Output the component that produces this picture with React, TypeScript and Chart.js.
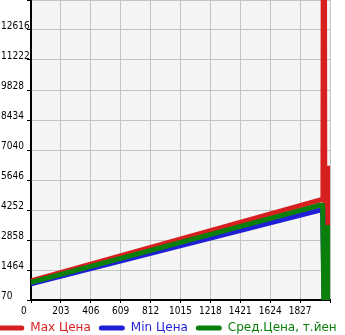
import React, { useEffect, useRef } from "react";
import { Chart, registerables } from "chart.js";

Chart.register(...registerables);

// ---- data ----
const seriesLabels = ["Max Цена", "Min Цена", "Сред.Цена, т.йен"];
const seriesColors = ["#d81f1f", "#1f1fd8", "#0b7f0b"];

const maxX = [0, 1965, 1982, 1988, 1995, 2020, 2030];
const maxY = [962, 4717, 4800, 40000, 2700, 6300, 3000];

const minX = [0, 1965, 1980, 1990, 2012, 2030];
const minY = [823, 4252, 4240, 0, 0, 2250];

const avgX = [0, 1965, 1980, 1988, 2003, 2017, 2025];
const avgY = [892, 4484, 4460, 0, 0, 3550, 0];

const xTickValues = [0, 203, 406, 609, 812, 1015, 1218, 1421, 1624, 1827, 2030];
const yTickValues = [70, 1464, 2858, 4252, 5646, 7040, 8434, 9828, 11222, 12616, 14010];

const tickFont = { family: "'DejaVu Sans Condensed', 'DejaVu Sans', sans-serif", size: 10 };
const legendFont = { family: "'DejaVu Sans', sans-serif", size: 12 };

const bgPlugin = {
  id: "plotBg",
  beforeDraw(chart: any) {
    const { ctx, chartArea } = chart;
    if (!chartArea) return;
    ctx.save();
    ctx.fillStyle = "#f5f5f5";
    ctx.fillRect(chartArea.left, chartArea.top, chartArea.right - chartArea.left, chartArea.bottom - chartArea.top);
    ctx.restore();
  },
};

const legendShift = {
  id: "legendShift",
  afterLayout(chart: any) {
    const l = chart.legend;
    if (l) {
      l.left -= 10.7;
    }
  },
};

export default function App() {
  const ref = useRef<HTMLCanvasElement | null>(null);

  useEffect(() => {
    if (!ref.current) return;
    const mk = (xs: number[], ys: number[]) => xs.map((x, i) => ({ x, y: ys[i] }));
    const datasets = [
      { label: seriesLabels[0], data: mk(maxX, maxY), borderColor: seriesColors[0], backgroundColor: seriesColors[0], order: 2 },
      { label: seriesLabels[1], data: mk(minX, minY), borderColor: seriesColors[1], backgroundColor: seriesColors[1], order: 1 },
      { label: seriesLabels[2], data: mk(avgX, avgY), borderColor: seriesColors[2], backgroundColor: seriesColors[2], order: 0 },
    ].map((d) => ({
      ...d,
      borderWidth: 5,
      pointRadius: 0,
      tension: 0,
      fill: false,
      borderCapStyle: "round" as const,
    }));

    const chart = new Chart(ref.current, {
      type: "line",
      data: { datasets },
      plugins: [bgPlugin, legendShift],
      options: {
        responsive: false,
        animation: false,
        layout: { padding: { left: 1, right: 0, top: 0, bottom: -9 } },
        plugins: {
          tooltip: { enabled: false },
          legend: {
            position: "bottom",
            align: "start",
            labels: {
              boxWidth: 26,
              boxHeight: 5,
              padding: 8,
              font: legendFont,
              generateLabels: (c: any) =>
                c.data.datasets.map((ds: any, i: number) => ({
                  text: ds.label,
                  datasetIndex: i,
                  fillStyle: ds.borderColor,
                  strokeStyle: ds.borderColor,
                  fontColor: ds.borderColor,
                  lineWidth: 0,
                  borderRadius: 2.5,
                  hidden: false,
                })),
            },
          },
        },
        scales: {
          x: {
            type: "linear",
            min: xTickValues[0],
            max: xTickValues[xTickValues.length - 1],
            afterBuildTicks: (s: any) => {
              s.ticks = xTickValues.map((v) => ({ value: v }));
            },
            afterFit: (s: any) => {
              s.height = 14;
              s.paddingLeft = 0;
              s.paddingRight = 0;
            },
            ticks: {
              font: tickFont,
              color: "#000",
              padding: 2,
              maxRotation: 0,
              autoSkip: false,
              callback: (v: any) => {
                if (v === xTickValues[xTickValues.length - 1]) return "";
                if (v === 0) return "0     ";
                return String(v);
              },
            },
            grid: { color: "#c4c4c4", tickColor: "#000", tickLength: 3, lineWidth: 1 },
            border: { color: "#000", width: 2 },
          },
          y: {
            type: "linear",
            min: yTickValues[0],
            max: yTickValues[yTickValues.length - 1],
            afterBuildTicks: (s: any) => {
              s.ticks = yTickValues.map((v) => ({ value: v }));
            },
            afterFit: (s: any) => {
              s.width = 30;
              s.paddingTop = 0;
              s.paddingBottom = 0;
            },
            ticks: {
              font: tickFont,
              color: "#000",
              crossAlign: "far",
              labelOffset: -4,
              padding: 0,
              autoSkip: false,
              callback: (v: any) => (v === yTickValues[yTickValues.length - 1] ? "" : String(v)),
            },
            grid: { color: "#c4c4c4", tickColor: "#000", tickLength: 4, lineWidth: 1 },
            border: { color: "#000", width: 2 },
          },
          yR: {
            type: "linear",
            position: "right",
            display: true,
            grid: { display: false },
            ticks: { display: false },
            border: { display: false },
            afterFit: (s: any) => {
              s.width = 110;
              s.paddingTop = 0;
              s.paddingBottom = 0;
            },
          },
        },
      } as any,
    });
    return () => chart.destroy();
  }, []);

  return (
    <div style={{ position: "absolute", left: 0, top: 0, width: 345, height: 335, overflow: "hidden", background: "#fff" }}>
      <canvas ref={ref} width={440} height={335} style={{ display: "block" }} />
    </div>
  );
}
